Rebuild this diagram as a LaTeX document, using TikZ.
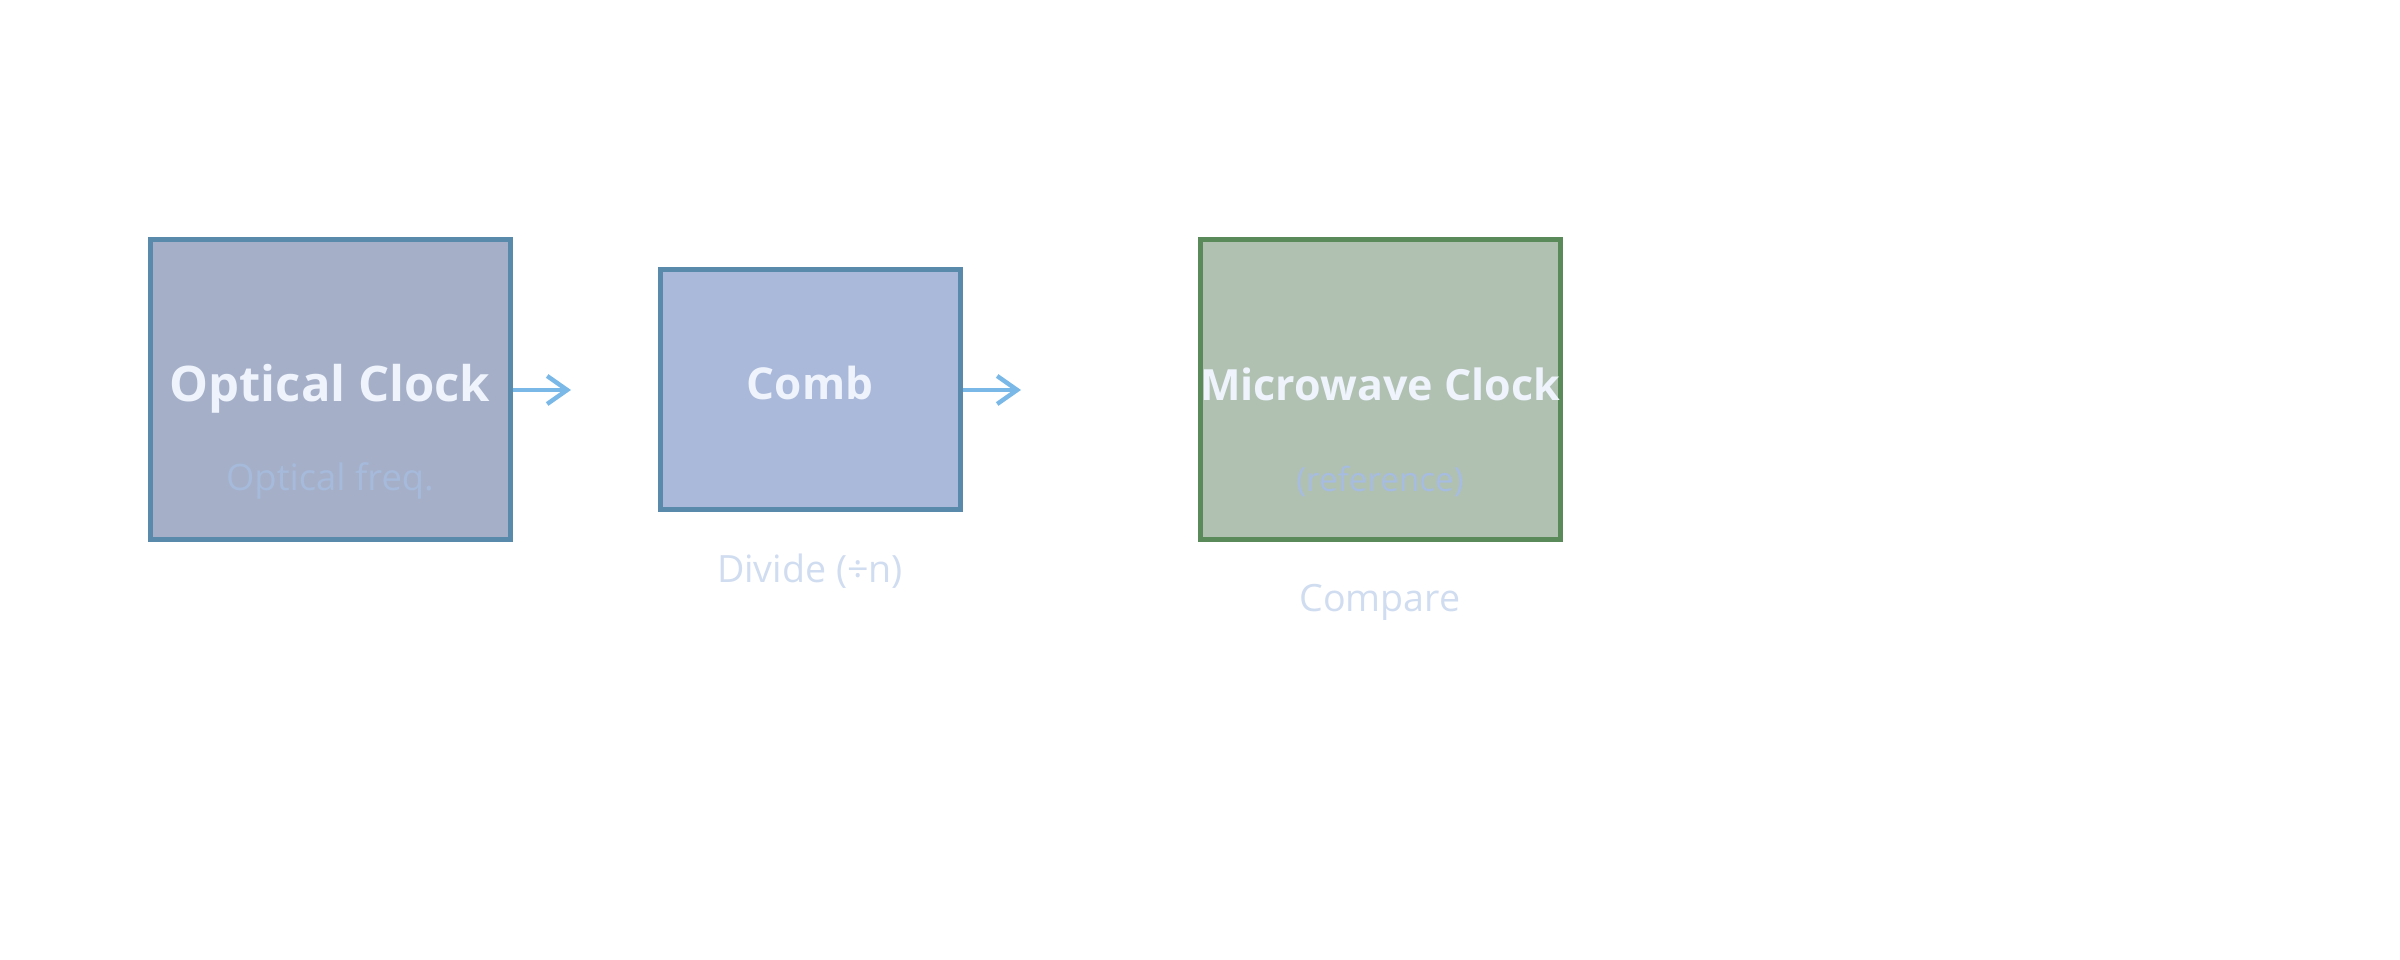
\documentclass[tikz,border=0pt]{standalone}
\usepackage{fontspec}
\setmainfont{Open Sans}
\usetikzlibrary{arrows.meta}
\definecolor{optfill}{HTML}{A5B0C8}
\definecolor{combfill}{HTML}{AAB9DA}
\definecolor{mwfill}{HTML}{B0C1B2}
\definecolor{blueedge}{HTML}{5A8AAB}
\definecolor{greenedge}{HTML}{5A8A5A}
\definecolor{titletxt}{HTML}{EEF3FC}
\definecolor{subtxt}{HTML}{A6BCE0}
\definecolor{captxt}{HTML}{D0DCF0}
\definecolor{arrowcol}{HTML}{7AB8E8}
\tikzset{
  boxnode/.style={draw, line width=1.25pt, inner sep=0pt, minimum width=90pt, minimum height=75pt},
  titlenode/.style={text=titletxt, font=\bfseries, anchor=base},
  subnode/.style={text=subtxt},
  capnode/.style={text=captxt, font=\fontsize{9.4pt}{11pt}\selectfont},
  flow/.style={draw=arrowcol, line width=1.1pt, -{Straight Barb[length=5pt,width=7pt,line width=1.1pt]}}
}
\begin{document}
\begin{tikzpicture}[x=0.25pt,y=-0.25pt]
\useasboundingbox (0,0) rectangle (2400,960);
\node[boxnode, fill=optfill, draw=blueedge] (opt) at (330,390) {};
\node[boxnode, fill=combfill, draw=blueedge, minimum width=75pt, minimum height=60pt] (comb) at (810,390) {};
\node[boxnode, fill=mwfill, draw=greenedge] (mw) at (1380,390) {};
\node[titlenode] (optt) at (330,402) {\fontsize{12.25pt}{14pt}\selectfont Optical Clock};
\node[titlenode] (combt) at (810,400) {\fontsize{11pt}{13pt}\selectfont Comb};
\node[titlenode] (mwt) at (1380,401) {\fontsize{10.75pt}{13pt}\selectfont Microwave Clock};
\node[subnode, text=subtxt!85!optfill] (opts) at (330,481) {\fontsize{9.1pt}{11pt}\selectfont Optical freq.};
\node[subnode] (mws) at (1380,481) {\fontsize{8.3pt}{10pt}\selectfont (reference)};
\node[capnode] (div) at (810,571) {Divide (÷n)};
\node[capnode] (cmp) at (1380,602) {Compare};
\coordinate (a1) at (571,390);
\coordinate (a2) at (1021,390);
\draw[flow] (opt.east) -- (a1);
\draw[flow] (comb.east) -- (a2);
\end{tikzpicture}
\end{document}
